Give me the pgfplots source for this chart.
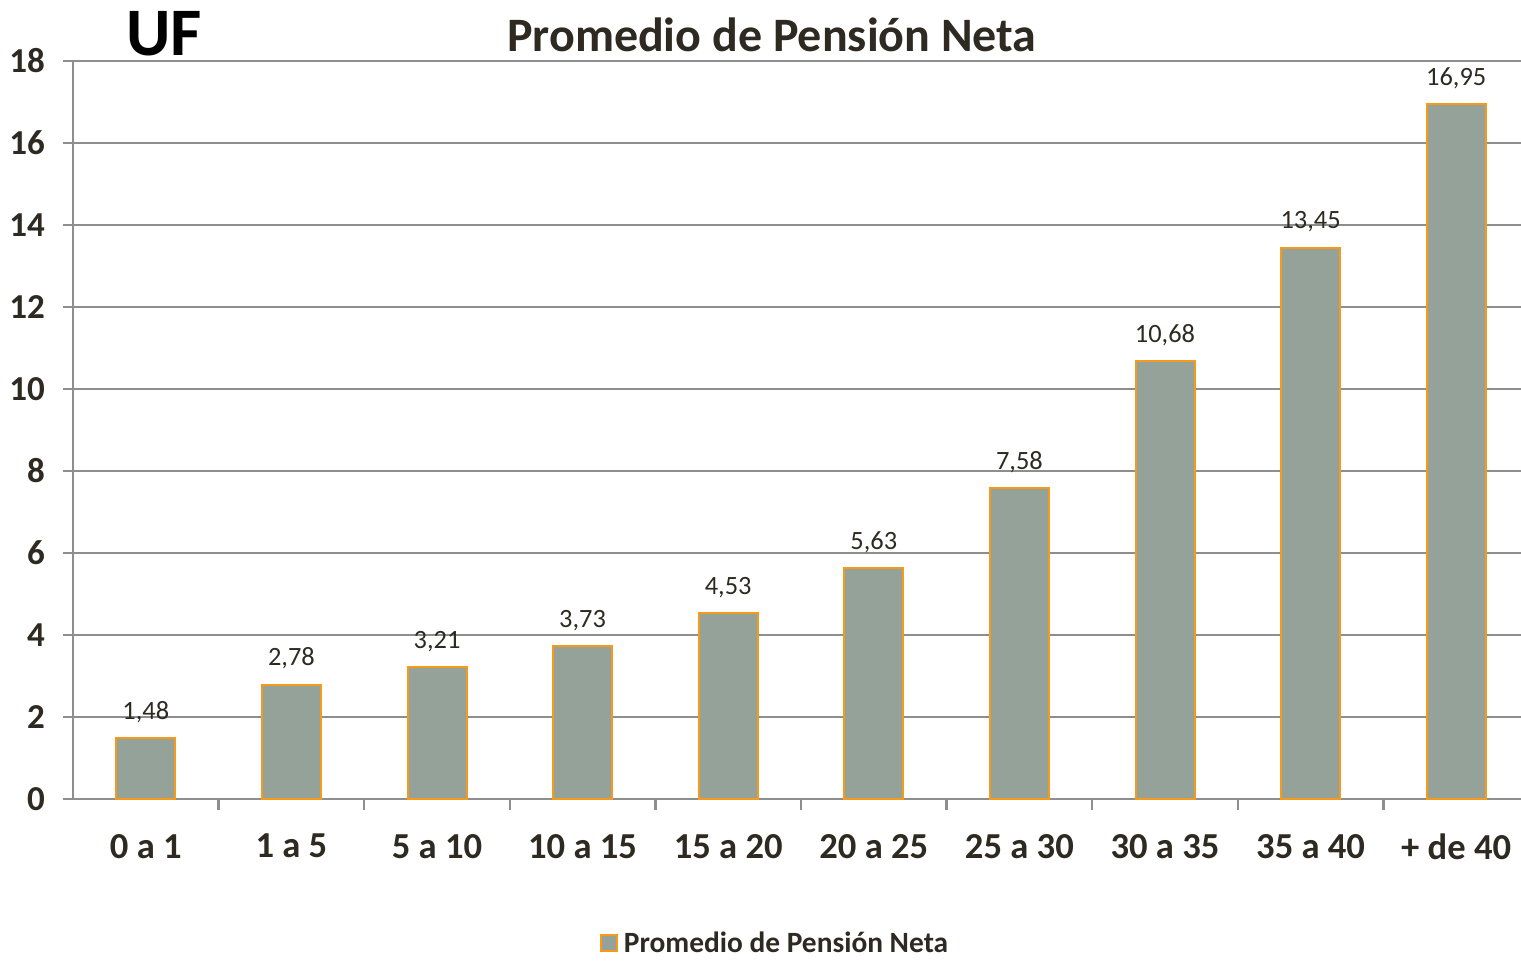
\documentclass[border=0pt]{standalone}
\usepackage{pgfplots}
\pgfplotsset{compat=1.18}
\usepackage{fontspec}
\setmainfont{Carlito}
\definecolor{barfill}{HTML}{95A29A}
\definecolor{baredge}{HTML}{F59A1A}
\definecolor{gridc}{HTML}{8E8E8E}
\definecolor{txt}{HTML}{2E2A22}
\begin{document}
\begin{tikzpicture}
\useasboundingbox (-36.5pt,-80.5pt) rectangle (724pt,399.5pt);
\begin{axis}[
  scale only axis,
  width=724pt, height=369pt,
  xmin=-0.5, xmax=9.445,
  ymin=0, ymax=18,
  axis lines=left,
  axis line style={-, draw=gridc, line width=1.2pt},
  ytick={0,2,...,18},
  xtick={0,...,9},
  xticklabels={0 a 1,1 a 5,5 a 10,10 a 15,15 a 20,20 a 25,25 a 30,30 a 35,35 a 40,+ de 40},
  minor xtick={0.5,1.5,...,8.5},
  tick align=outside,
  major tick length=5pt,
  minor tick length=5.5pt,
  xtick style={draw=none},
  minor x tick style={draw=gridc, line width=1.2pt},
  ytick style={draw=gridc, line width=1.2pt},
  ymajorgrids,
  grid style={draw=gridc, line width=1.2pt},
  /pgf/number format/assume math mode=true,
  yticklabel style={font=\fontsize{17.5}{19}\selectfont\bfseries, text=txt, xshift=-5.5pt},
  xticklabel style={font=\fontsize{18.3}{20}\selectfont\bfseries, text=txt, yshift=-9pt},
  ybar,
  bar width=29.5pt,
  nodes near coords={\pgfmathprintnumber[fixed,fixed zerofill,precision=2,use comma]{\pgfplotspointmeta}},
  every node near coord/.append style={font=\fontsize{13.2}{15}\selectfont, text=txt, anchor=south, yshift=4pt},
  legend style={at={(0.4855,-0.1965)}, anchor=center, draw=none, fill=none,
    font=\fontsize{14.7}{16}\selectfont\bfseries, text=txt, inner sep=1pt},
  legend image code/.code={\draw[#1, line width=1pt] (0pt,-3.6pt) rectangle (8pt,4.4pt);},
  clip=false,
]
\addplot[fill=barfill, draw=baredge, line width=1pt] coordinates {
  (0,1.48) (1,2.78) (2,3.21) (3,3.73) (4,4.53) (5,5.63) (6,7.58) (7,10.68) (8,13.45) (9,16.95)
};
\addlegendentry{\hspace{1pt}Promedio de Pensión Neta}
\node[font=\fontsize{24}{28}\selectfont\bfseries, text=txt] at (axis cs:4.3,18.63) {Promedio de Pensión Neta};
\node[font=\fontsize{34}{38}\selectfont\bfseries, text=black] at (axis cs:0.125,18.66) {UF};
\end{axis}
\end{tikzpicture}
\end{document}
